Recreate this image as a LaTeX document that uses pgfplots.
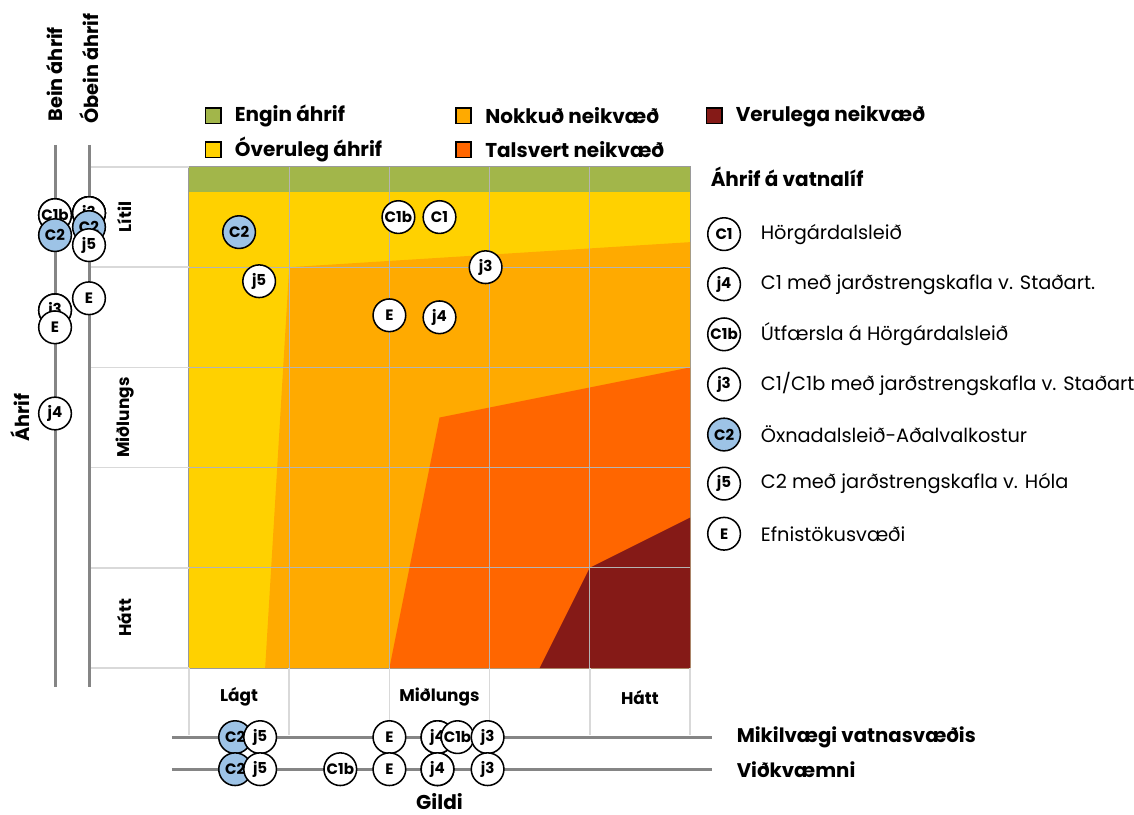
\documentclass[border=0pt]{standalone}
\usepackage{fontspec}
\setmainfont{Poppins}
\usepackage{pgfplots}
\pgfplotsset{compat=1.18}
\definecolor{cgreen}{HTML}{A2B64A}
\definecolor{cyellow}{HTML}{FFD100}
\definecolor{corange}{HTML}{FFAA00}
\definecolor{cred}{HTML}{FF6600}
\definecolor{cdark}{HTML}{851A17}
\definecolor{cblue}{HTML}{9DC3E6}
\definecolor{cgrid}{HTML}{B4B4B4}
\definecolor{cframe}{HTML}{9A9A9A}
\definecolor{caxis}{HTML}{858585}
\definecolor{clight}{HTML}{D9D9D9}
\tikzset{mknode/.style={circle, draw=black, line width=1.15pt, minimum size=24.5pt, inner sep=0pt, font=\bfseries\fontsize{11.3}{11.3}\selectfont, text=black}}
\pgfplotsset{
  mk/.style={draw=none, mark=none, nodes near coords, point meta=explicit symbolic,
    every node near coord/.append style={mknode, fill=#1, anchor=center}},
}
\newcommand{\lgsq}[4]{% x y color text
  \node[draw=black, line width=1.2pt, fill=#3, minimum size=11.5pt, inner sep=0pt] at (axis cs:#1,#2) {};
  \node[anchor=west, font=\bfseries\fontsize{15}{17}\selectfont] at (axis cs:#1+0.17,#2) {#4};}
\newcommand{\lgci}[4]{% y label fill text
  \node[mknode, fill=#3] at (axis cs:5.34,#1) {#2};
  \node[anchor=west, font=\fontsize{14.5}{17}\selectfont] at (axis cs:5.66,#1) {#4};}
\begin{document}
\begin{tikzpicture}
\useasboundingbox (0,0) rectangle (850.5pt,610.5pt);
\begin{axis}[at={(141.75pt,109.5pt)}, anchor=south west, scale only axis,
  width=375.75pt, height=375.75pt, xmin=0, xmax=5, ymin=0, ymax=5,
  xtick=\empty, ytick=\empty, clip=false,
  axis line style={draw=cframe, line width=1pt}]
% impact zones
\addplot[fill=cyellow, draw=none] coordinates {(0,0) (5,0) (5,4.75) (0,4.75)} -- cycle;
\addplot[fill=cgreen, draw=none] coordinates {(0,4.75) (5,4.75) (5,5) (0,5)} -- cycle;
\addplot[fill=corange, draw=none] coordinates {(0.76,0) (1.0,4.0) (5,4.25) (5,0)} -- cycle;
\addplot[fill=cred, draw=none] coordinates {(2.0,0) (2.5,2.5) (5,3.0) (5,0)} -- cycle;
\addplot[fill=cdark, draw=none] coordinates {(3.5,0) (4.0,1.0) (5,1.5) (5,0)} -- cycle;
% grid
\pgfplotsinvokeforeach{1,2,3,4}{
  \draw[cgrid, line width=0.9pt] (axis cs:#1,0) -- (axis cs:#1,5);
  \draw[cgrid, line width=0.9pt] (axis cs:0,#1) -- (axis cs:5,#1);}
% label areas
\pgfplotsinvokeforeach{0,1,2,3,4,5}{
  \draw[clight, line width=1.2pt] (axis cs:-0.998,#1) -- (axis cs:0,#1);
  \draw[clight, line width=1.2pt] (axis cs:#1,0) -- (axis cs:#1,-0.67);}
% scale lines
\draw[caxis, line width=2.25pt] (axis cs:-1.337,5.22) -- (axis cs:-1.337,-0.19);
\draw[caxis, line width=2.25pt] (axis cs:-0.998,5.22) -- (axis cs:-0.998,-0.19);
\draw[caxis, line width=2.25pt] (axis cs:-0.17,-0.69) -- (axis cs:5.22,-0.69);
\draw[caxis, line width=2.25pt] (axis cs:-0.17,-1.01) -- (axis cs:5.22,-1.01);
% category labels
\node[rotate=90, font=\bfseries\fontsize{12.7}{14}\selectfont] at (axis cs:-0.64,4.5) {Lítil};
\node[rotate=90, font=\bfseries\fontsize{12.7}{14}\selectfont] at (axis cs:-0.64,2.5) {Miðlungs};
\node[rotate=90, font=\bfseries\fontsize{12.7}{14}\selectfont] at (axis cs:-0.64,0.5) {Hátt};
\node[font=\bfseries\fontsize{12.7}{14}\selectfont] at (axis cs:0.5,-0.29) {Lágt};
\node[font=\bfseries\fontsize{12.7}{14}\selectfont] at (axis cs:2.5,-0.29) {Miðlungs};
\node[font=\bfseries\fontsize{12.7}{14}\selectfont] at (axis cs:4.5,-0.29) {Hátt};
% axis titles
\node[rotate=90, anchor=west, inner sep=0pt, font=\bfseries\fontsize{14.5}{17}\selectfont] at (axis cs:-1.337,5.45) {Bein áhrif};
\node[rotate=90, anchor=west, inner sep=0pt, font=\bfseries\fontsize{14.5}{17}\selectfont] at (axis cs:-1.00,5.43) {Óbein áhrif};
\node[rotate=90, font=\bfseries\fontsize{14.5}{17}\selectfont] at (axis cs:-1.687,2.5) {Áhrif};
\node[anchor=west, font=\bfseries\fontsize{14.8}{17}\selectfont] at (axis cs:5.42,-0.69) {Mikilvægi vatnasvæðis};
\node[anchor=west, font=\bfseries\fontsize{14.8}{17}\selectfont] at (axis cs:5.42,-1.01) {Viðkvæmni};
\node[font=\bfseries\fontsize{15}{17}\selectfont] at (axis cs:2.5,-1.33) {Gildi};
% zone legend
\lgsq{0.24}{5.51}{cgreen}{Engin áhrif}
\lgsq{0.24}{5.17}{cyellow}{Óveruleg áhrif}
\lgsq{2.74}{5.51}{corange}{Nokkuð neikvæð}
\lgsq{2.74}{5.17}{cred}{Talsvert neikvæð}
\lgsq{5.24}{5.51}{cdark}{Verulega neikvæð}
% option legend
\node[anchor=west, font=\bfseries\fontsize{15}{17}\selectfont] at (axis cs:5.16,4.90) {Áhrif á vatnalíf};
\lgci{4.33}{C1}{white}{Hörgárdalsleið}
\lgci{3.83}{j4}{white}{C1 með jarðstrengskafla v. Staðart.}
\lgci{3.33}{C1b}{white}{Útfærsla á Hörgárdalsleið}
\lgci{2.83}{j3}{white}{C1/C1b með jarðstrengskafla v. Staðart.}
\lgci{2.33}{C2}{cblue}{Öxnadalsleið-Aðalvalkostur}
\lgci{1.84}{j5}{white}{C2 með jarðstrengskafla v. Hóla}
\lgci{1.34}{E}{white}{Efnistökusvæði}
% ---- option positions ----
% main matrix
\addplot[mk=cblue] table[meta=lab] {
x y lab
0.50 4.35 C2
};
\addplot[mk=white] table[meta=lab] {
x y lab
2.09 4.50 C1b
2.50 4.50 C1
2.96 4.00 j3
0.70 3.86 j5
2.00 3.52 E
2.50 3.50 j4
};
% Bein ahrif
\addplot[mk=white] table[meta=lab] {
x y lab
-1.337 4.52 C1
-1.337 4.52 C1b
-1.337 3.57 j5
-1.337 3.57 j3
};
\addplot[mk=cblue] table[meta=lab] {
x y lab
-1.337 4.32 C2
};
\addplot[mk=white] table[meta=lab] {
x y lab
-1.337 3.40 E
-1.337 2.54 j4
};
% Obein ahrif
\addplot[mk=white] table[meta=lab] {
x y lab
-0.998 4.54 C1
-0.998 4.54 C1b
-0.998 4.54 j4
-0.998 4.54 j3
};
\addplot[mk=cblue] table[meta=lab] {
x y lab
-0.998 4.40 C2
};
\addplot[mk=white] table[meta=lab] {
x y lab
-0.998 4.22 j5
-0.998 3.69 E
};
% Mikilvaegi vatnasvaedis
\addplot[mk=cblue] table[meta=lab] {
x y lab
0.46 -0.69 C2
};
\addplot[mk=white] table[meta=lab] {
x y lab
0.71 -0.69 j5
2.00 -0.69 E
2.48 -0.69 C1
2.48 -0.69 j4
2.68 -0.69 C1b
2.98 -0.69 j3
};
% Vidkvaemni
\addplot[mk=cblue] table[meta=lab] {
x y lab
0.46 -1.01 C2
};
\addplot[mk=white] table[meta=lab] {
x y lab
0.71 -1.01 j5
1.51 -1.01 C1b
2.00 -1.01 E
2.48 -1.01 C1
2.48 -1.01 j4
2.98 -1.01 j3
};
\end{axis}
\end{tikzpicture}
\end{document}
